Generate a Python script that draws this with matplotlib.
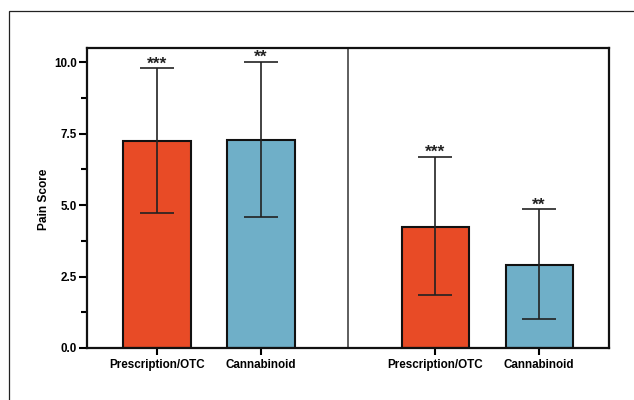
import numpy as np
import matplotlib.pyplot as plt
from matplotlib.patches import Rectangle

plt.rcParams['font.family'] = ['Liberation Sans', 'DejaVu Sans']

# data
categories = ['Prescription/OTC', 'Cannabinoid', 'Prescription/OTC', 'Cannabinoid']
means = [7.25, 7.28, 4.23, 2.89]
err_low = [4.74, 4.60, 1.85, 1.00]
err_high = [9.80, 10.02, 6.70, 4.86]
stars = ['***', '**', '***', '**']
colors = ['#E84B26', '#6FAFC8', '#E84B26', '#6FAFC8']

positions = [0, 1, 2.674, 3.674]
divider = 1.837

fig = plt.figure(figsize=(6.34, 4.0), dpi=100)
ax = fig.add_axes([87 / 634, 1 - 348 / 400, (609 - 87) / 634, (348 - 48) / 400])

# figure border
fig.patches.append(Rectangle((8.5 / 634, -0.1), 1.0, 1 - 10.5 / 400 + 0.1,
                             transform=fig.transFigure, fill=False,
                             edgecolor='#222222', linewidth=0.9))

means_a = np.array(means)
yerr = [means_a - np.array(err_low), np.array(err_high) - means_a]
ax.bar(positions, means, width=0.645, color=colors, edgecolor='#111111',
       linewidth=1.5, zorder=2)
ax.errorbar(positions, means, yerr=yerr, fmt='none', ecolor='#222222',
            elinewidth=1.2, capsize=12.5, capthick=1.2, zorder=3)

for x, top, s in zip(positions, err_high, stars):
    ax.text(x, top - 0.12, s, ha='center', va='bottom', fontsize=12.5,
            fontweight='bold', color='#222222')

ax.axvline(divider, color='#333333', linewidth=1.1, zorder=1)

ax.set_xlim(-0.673, 4.346)
ax.set_ylim(0, 10.5)
ax.set_yticks([0, 2.5, 5.0, 7.5, 10.0])
ax.set_yticks(np.arange(1.25, 10.5, 2.5), minor=True)
ax.set_yticklabels(['0.0', '2.5', '5.0', '7.5', '10.0'], fontsize=8.4,
                   fontweight='bold')
ax.set_xticks(positions)
ax.set_xticklabels(categories, fontsize=8.4, fontweight='bold')
ax.tick_params(axis='y', which='major', length=6, width=1.5, pad=1.5)
ax.tick_params(axis='y', which='minor', length=4, width=1.5)
ax.tick_params(axis='x', length=5, width=1.5, pad=3)

for sp in ax.spines.values():
    sp.set_linewidth(1.6)
    sp.set_color('#111111')

fig.text(44 / 634, 1 - 199 / 400, 'Pain Score', rotation=90, ha='center',
         va='center', fontsize=8.6, fontweight='bold')

fig.savefig('out.png', dpi=100)
